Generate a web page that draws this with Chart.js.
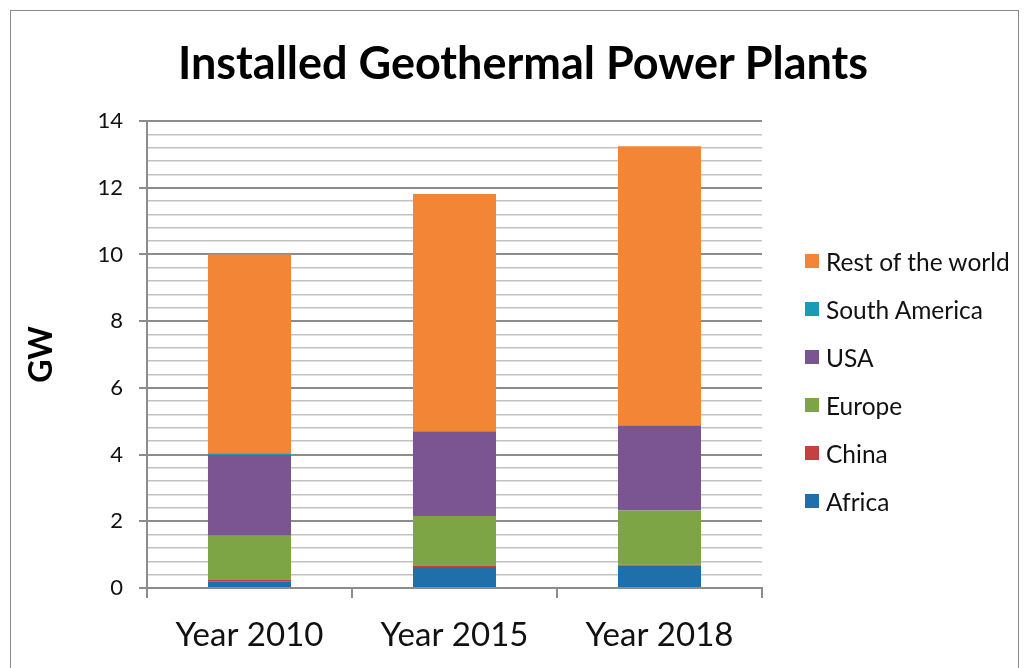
<!DOCTYPE html>
<html lang="en">
<head>
    <meta charset="UTF-8">
    <title>Installed Geothermal Power Plants</title>
    <script src="https://cdn.jsdelivr.net/npm/chart.js"></script>
    <style>
        body {
            margin: 0;
            padding: 0;
            background: white;
            width: 1024px;
            height: 668px;
            overflow: hidden;
            position: relative;
            font-family: Lato, "Open Sans", sans-serif;
        }
        .frame {
            position: absolute;
            left: 10px;
            top: 10px;
            width: 1009px;
            height: 700px;
            border: 1.5px solid #8a8a8a;
            box-sizing: border-box;
        }
        canvas {
            position: absolute;
            left: 0;
            top: 0;
        }
        .title {
            position: absolute;
            left: 0;
            width: 1046px;
            top: 34px;
            text-align: center;
            font-size: 45px;
            font-weight: bold;
            line-height: 56px;
            color: #000;
        }
        .legend {
            position: absolute;
            left: 805px;
            top: 237px;
        }
        .legend-item {
            display: flex;
            align-items: center;
            height: 48px;
            font-size: 24.5px;
            color: #111;
        }
        .legend-box {
            width: 14px;
            height: 14px;
            margin-right: 7px;
        }
    </style>
</head>
<body>
    <div class="frame"></div>
    <canvas id="geoChart" width="1024" height="668"></canvas>
    <div class="title">Installed Geothermal Power Plants</div>
    <div class="legend" id="legend"></div>

    <script>
        const years = ['Year 2010', 'Year 2015', 'Year 2018'];
        const africa = [0.20, 0.63, 0.67];
        const china = [0.04, 0.03, 0.03];
        const europe = [1.33, 1.50, 1.62];
        const usa = [2.42, 2.53, 2.54];
        const southAmerica = [0.05, 0.02, 0.02];
        const restOfWorld = [5.96, 7.10, 8.36];

        const seriesNames = ['Africa', 'China', 'Europe', 'USA', 'South America', 'Rest of the world'];
        const seriesColors = ['#1F70AA', '#C5403E', '#7EA545', '#7B5591', '#1A9AB4', '#F28636'];
        const seriesValues = [africa, china, europe, usa, southAmerica, restOfWorld];

        const isMajor = v => Math.abs(v / 2 - Math.round(v / 2)) < 1e-6;

        const ctx = document.getElementById('geoChart').getContext('2d');
        new Chart(ctx, {
            type: 'bar',
            data: {
                labels: years,
                datasets: seriesNames.map((name, i) => ({
                    label: name,
                    data: seriesValues[i],
                    backgroundColor: seriesColors[i],
                    categoryPercentage: 1.0,
                    barPercentage: 0.405
                }))
            },
            options: {
                responsive: false,
                animation: false,
                layout: {
                    padding: { left: 0, right: 262, top: 121, bottom: 0 }
                },
                scales: {
                    x: {
                        stacked: true,
                        grid: {
                            offset: true,
                            drawOnChartArea: false,
                            tickLength: 10,
                            color: '#8c8c8c',
                            lineWidth: 2
                        },
                        border: { color: '#8c8c8c', width: 2 },
                        ticks: {
                            color: '#111',
                            font: { family: 'Lato', size: 33 },
                            padding: 18
                        },
                        afterFit: scale => { scale.height = 80; }
                    },
                    y: {
                        stacked: true,
                        min: 0,
                        max: 14,
                        title: {
                            display: true,
                            text: 'GW',
                            color: '#000',
                            font: { family: 'Lato', size: 32, weight: 'bold' },
                            padding: { top: 22, bottom: 0 }
                        },
                        grid: {
                            tickLength: 8,
                            color: c => isMajor(c.tick.value) ? '#8c8c8c' : '#c2c2c2',
                            tickColor: c => isMajor(c.tick.value) ? '#8c8c8c' : 'rgba(0,0,0,0)',
                            lineWidth: c => isMajor(c.tick.value) ? 2 : 1.6
                        },
                        border: { color: '#8c8c8c', width: 2 },
                        ticks: {
                            stepSize: 0.4,
                            autoSkip: false,
                            color: '#111',
                            font: { family: 'Lato', size: 22 },
                            padding: 16,
                            callback: v => isMajor(v) ? Math.round(v) : ''
                        },
                        afterFit: scale => { scale.width = 147; }
                    }
                },
                plugins: {
                    legend: { display: false },
                    tooltip: { enabled: false },
                    title: { display: false }
                }
            }
        });

        const legend = document.getElementById('legend');
        for (let i = seriesNames.length - 1; i >= 0; i--) {
            const item = document.createElement('div');
            item.className = 'legend-item';
            item.innerHTML = '<span class="legend-box" style="background:' + seriesColors[i] + '"></span>' + seriesNames[i];
            legend.appendChild(item);
        }
    </script>
</body>
</html>
